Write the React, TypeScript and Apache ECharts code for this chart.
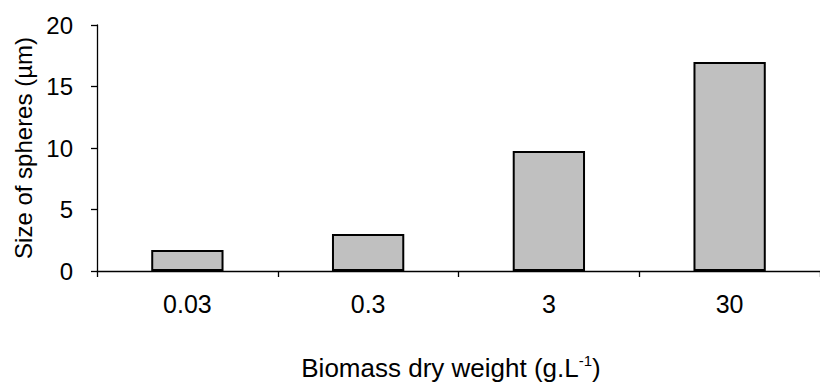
import React, { useEffect, useRef } from "react";
import * as echarts from "echarts";

const categories = ["0.03", "0.3", "3", "30"];
const sphereSizes = [1.7, 3.0, 9.75, 17.0];
const yTicks = { min: 0, max: 20, interval: 5 };

const FONT = "Liberation Sans, Arial, sans-serif";

export default function App() {
  const ref = useRef<HTMLDivElement>(null);
  useEffect(() => {
    document.body.style.margin = "0";
    const chart = echarts.init(ref.current!, null, { renderer: "svg" });
    chart.setOption({
      animation: false,
      backgroundColor: "#ffffff",
      textStyle: { fontFamily: FONT, color: "#000" },
      grid: { left: 97, top: 25, width: 732, height: 246 },
      xAxis: {
        type: "category",
        data: categories,
        boundaryGap: true,
        axisLine: { lineStyle: { color: "#000", width: 1.3 } },
        axisTick: { show: true, interval: 0, alignWithLabel: false, length: 6, lineStyle: { color: "#000", width: 1.3 } },
        axisLabel: { color: "#000", fontSize: 25, fontFamily: FONT, margin: 20 },
        splitLine: { show: false },
      },
      yAxis: {
        type: "value",
        min: yTicks.min,
        max: yTicks.max,
        interval: yTicks.interval,
        name: "Size of spheres (µm)",
        nameLocation: "middle",
        nameGap: 60,
        nameRotate: 90,
        nameTextStyle: { color: "#000", fontSize: 24, fontFamily: FONT },
        axisLine: { show: true, lineStyle: { color: "#000", width: 1.3 } },
        axisTick: { show: true, length: 6, lineStyle: { color: "#000", width: 1.3 } },
        axisLabel: { color: "#000", fontSize: 24, fontFamily: FONT, margin: 24 },
        splitLine: { show: false },
      },
      graphic: [
        {
          type: "text",
          x: 451,
          y: 366,
          style: {
            text: "{a|Biomass dry weight (g.L}{s|-1}{a|)}",
            align: "center",
            verticalAlign: "middle",
            fill: "#000",
            font: `26px ${FONT}`,
            rich: {
              a: { fontSize: 26, fontFamily: FONT, fill: "#000", lineHeight: 30, verticalAlign: "bottom" },
              s: { fontSize: 15, fontFamily: FONT, fill: "#000", lineHeight: 30, verticalAlign: "top", padding: [2, 0, 0, 0] },
            },
          },
        },
      ],
      series: [
        {
          type: "bar",
          data: sphereSizes,
          barWidth: "40%",
          itemStyle: { color: "#C0C0C0", borderColor: "#000", borderWidth: 2 },
        },
      ],
    });
    return () => chart.dispose();
  }, []);
  return <div ref={ref} style={{ width: 820, height: 383 }} />;
}
